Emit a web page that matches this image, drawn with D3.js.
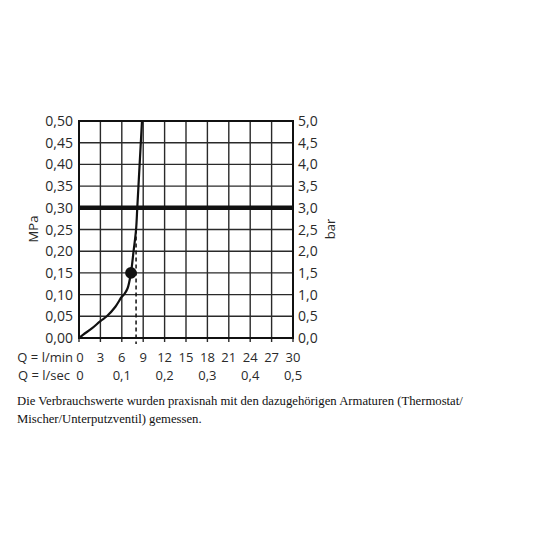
<!DOCTYPE html>
<html><head><meta charset="utf-8">
<script src="https://cdn.jsdelivr.net/npm/d3@7"></script>
<style>body{margin:0;background:#fff}svg{display:block}</style>
</head><body>
<script>
const flowTicks = [0,3,6,9,12,15,18,21,24,27,30];
const secTicks = [0,0.1,0.2,0.3,0.4,0.5];
const mpaTicks = [0,0.05,0.10,0.15,0.20,0.25,0.30,0.35,0.40,0.45,0.50];
const barTicks = [0,0.5,1.0,1.5,2.0,2.5,3.0,3.5,4.0,4.5,5.0];
const curveQ = [0,0.6,1.8,3.0,3.9,5.1,6.0,6.3,6.8,7.28,7.65,8.0,8.17,8.5,8.83];
const curveP = [0,0.008,0.022,0.039,0.05,0.072,0.095,0.10,0.114,0.15,0.20,0.25,0.30,0.40,0.50];
const refLineP = 0.30;
const pointQ = [7.28], pointP = [0.15];
const dashQ = 8.0, dashTopP = 0.25;
const footLines = ["Die Verbrauchswerte wurden praxisnah mit den dazugehörigen Armaturen (Thermostat/","Mischer/Unterputzventil) gemessen."];

const W=536,H=536;
const svg=d3.select("body").append("svg").attr("width",W).attr("height",H);
const x=d3.scaleLinear().domain([0,30]).range([79,293]);
const y=d3.scaleLinear().domain([0,0.5]).range([338,121]);
const yb=d3.scaleLinear().domain([0,5]).range([338,121]);
const fmt=(v,d)=>v.toFixed(d).replace(".",",");
const font="'Open Sans', sans-serif";
const gc="#2a2a2a";
const tc="#2a2a2a";

svg.append("g").selectAll("line").data(flowTicks).join("line")
 .attr("x1",d=>x(d)).attr("x2",d=>x(d)).attr("y1",y(0.5)).attr("y2",y(0)+4)
 .attr("stroke",gc).attr("stroke-width",1.4);
svg.append("g").selectAll("line").data(mpaTicks).join("line")
 .attr("x1",x(0)).attr("x2",x(30)).attr("y1",d=>y(d)).attr("y2",d=>y(d))
 .attr("stroke",gc).attr("stroke-width",1.4);
svg.append("rect").attr("x",x(0)).attr("y",y(0.5)).attr("width",x(30)-x(0)).attr("height",y(0)-y(0.5))
 .attr("fill","none").attr("stroke","#111").attr("stroke-width",2);
svg.append("line").attr("x1",x(0)).attr("x2",x(30)).attr("y1",y(refLineP)).attr("y2",y(refLineP))
 .attr("stroke","#111").attr("stroke-width",4.5);
svg.append("line").attr("x1",x(dashQ)).attr("x2",x(dashQ)).attr("y1",y(dashTopP)).attr("y2",y(0)+6)
 .attr("stroke","#111").attr("stroke-width",1.5).attr("stroke-dasharray","4,3");
const pts=curveQ.map((q,i)=>[x(q),y(curveP[i])]);
svg.append("path").attr("d",d3.line().curve(d3.curveCatmullRom.alpha(0.5))(pts))
 .attr("fill","none").attr("stroke","#111").attr("stroke-width",2.2);
svg.selectAll("circle.pt").data(pointQ).join("circle")
 .attr("cx",d=>x(d)).attr("cy",(d,i)=>y(pointP[i])).attr("r",5.8).attr("fill","#111");

svg.append("g").selectAll("text").data(mpaTicks).join("text")
 .attr("x",73).attr("y",d=>y(d)+5).attr("text-anchor","end")
 .attr("font-family",font).attr("font-size",14).attr("fill",tc).text(d=>fmt(d,2));
svg.append("g").selectAll("text").data(barTicks).join("text")
 .attr("x",298).attr("y",d=>yb(d)+5).attr("text-anchor","start")
 .attr("font-family",font).attr("font-size",14).attr("fill",tc).text(d=>fmt(d,1));
svg.append("text").attr("transform","translate(38,229) rotate(-90)").attr("text-anchor","middle")
 .attr("font-family",font).attr("font-size",13).attr("fill",tc).text("MPa");
svg.append("text").attr("transform","translate(335,229) rotate(-90)").attr("text-anchor","middle")
 .attr("font-family",font).attr("font-size",13).attr("fill",tc).text("bar");
svg.append("g").selectAll("text").data(flowTicks).join("text")
 .attr("x",d=>x(d)+(d===0?1:0)).attr("y",362).attr("text-anchor","middle")
 .attr("font-family",font).attr("font-size",13).attr("fill",tc).text(d=>d);
svg.append("g").selectAll("text").data(secTicks).join("text")
 .attr("x",d=>x(d*60)+(d===0?1:0)).attr("y",380).attr("text-anchor","middle")
 .attr("font-family",font).attr("font-size",13).attr("fill",tc).text(d=>d===0?"0":fmt(d,1));
svg.append("text").attr("x",73).attr("y",362).attr("text-anchor","end")
 .attr("font-family",font).attr("font-size",13).attr("fill",tc).text("Q = l/min");
svg.append("text").attr("x",70).attr("y",380).attr("text-anchor","end")
 .attr("font-family",font).attr("font-size",13).attr("fill",tc).text("Q = l/sec");
svg.append("g").selectAll("text").data(footLines).join("text")
 .attr("x",17).attr("y",(d,i)=>404.5+i*18)
 .attr("font-family","'Liberation Serif', 'Times New Roman', serif").attr("font-size",12.7).attr("fill","#111").text(d=>d);
</script>
</body></html>
